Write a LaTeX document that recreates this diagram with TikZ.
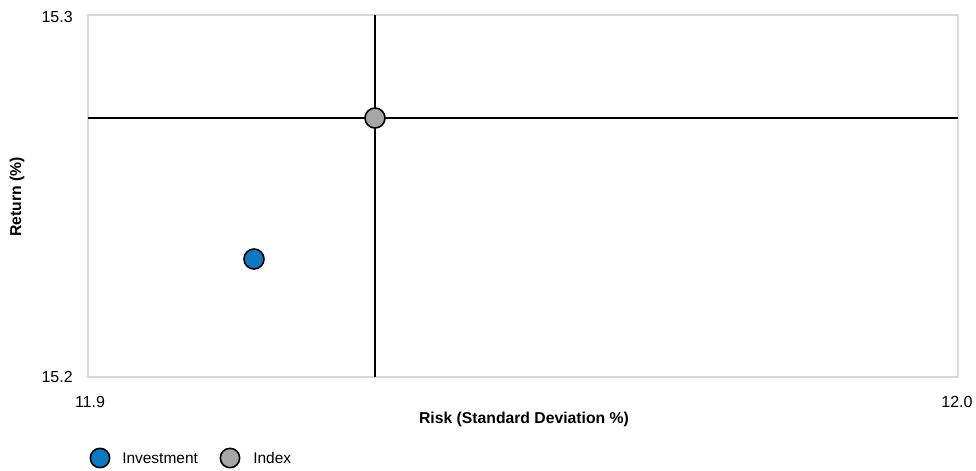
\documentclass[tikz,border=0pt]{standalone}
\usepackage{fontspec}
\setmainfont{Liberation Sans}
\definecolor{invblue}{HTML}{0A7BC1}
\definecolor{idxgray}{HTML}{A6A6A6}
\definecolor{framegray}{HTML}{D9D9D9}
\begin{document}
\begin{tikzpicture}[x=0.75pt,y=-0.75pt,
  tick/.style={font=\fontsize{12}{14}\selectfont, inner sep=0pt},
  axtitle/.style={font=\fontsize{11.8}{14}\selectfont\bfseries, inner sep=0pt},
  marker/.style={circle, draw=black, line width=1.2pt, minimum size=15pt, inner sep=0pt},
  leg/.style={circle, draw=black, line width=1.2pt, minimum size=14.5pt, inner sep=0pt},
  legtext/.style={font=\fontsize{11.6}{13}\selectfont, inner sep=0pt, anchor=west},
  cross/.style={black, line width=1pt}]
\useasboundingbox (0,0) rectangle (976,471);
\draw[framegray, line width=1pt] (88,15) rectangle (958,377);
\coordinate (vt) at (375,15);
\coordinate (vb) at (375,377);
\coordinate (hl) at (88,118);
\coordinate (hr) at (958,118);
\draw[cross] (vt) -- (vb);
\draw[cross] (hl) -- (hr);
\node[marker, fill=idxgray] (index) at (375,118) {};
\node[marker, fill=invblue] (inv) at (254,259) {};
\node[tick, anchor=east] (y1) at (73,17) {15.3};
\node[tick, anchor=east] (y0) at (73,377) {15.2};
\node[tick] (x0) at (90,402) {11.9};
\node[tick] (x1) at (957,402) {12.0};
\node[axtitle] (xt) at (524,419) {Risk (Standard Deviation \%)};
\node[axtitle, rotate=90] (yt) at (17,197) {Return (\%)};
\node[leg, fill=invblue] (l1) at (100,458) {};
\node[legtext] (l1t) at (122,458) {Investment};
\node[leg, fill=idxgray] (l2) at (230,458) {};
\node[legtext] (l2t) at (253,458) {Index};
\end{tikzpicture}
\end{document}
